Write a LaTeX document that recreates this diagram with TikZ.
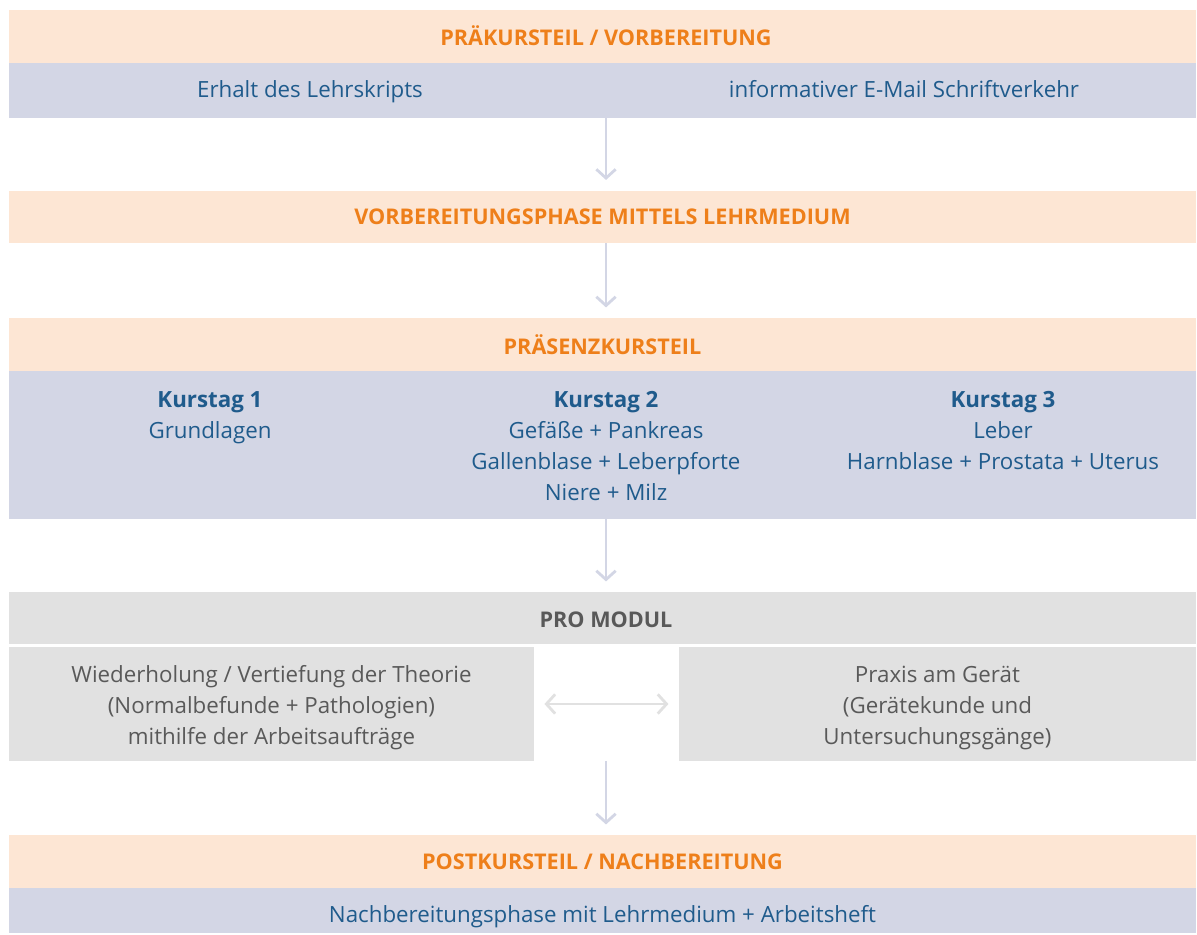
\documentclass[tikz,border=0pt]{standalone}
\usepackage{fontspec}
\setmainfont{Open Sans}
\usetikzlibrary{arrows.meta,positioning}

\definecolor{headfill}{HTML}{FDE6D4}
\definecolor{headtext}{HTML}{EE7F1A}
\definecolor{bodyfill}{HTML}{D3D6E5}
\definecolor{bodytext}{HTML}{1F5B8C}
\definecolor{modfill}{HTML}{E1E1E1}
\definecolor{modtext}{HTML}{595959}

\begin{document}
\begin{tikzpicture}[
    x=0.02cm, y=-0.02cm,
    band/.style={minimum width=23.74cm, inner sep=0pt, outer sep=0pt},
    headband/.style={band, fill=headfill, minimum height=1.06cm, text=headtext, font=\fontsize{12.3}{17.6}\selectfont\bfseries},
    bodyband/.style={band, fill=bodyfill, text=bodytext},
    modbox/.style={fill=modfill, minimum width=10.5cm, minimum height=2.28cm, inner sep=0pt, outer sep=0pt},
    bodylabel/.style={text=bodytext, align=center},
    modlabel/.style={text=modtext, align=center},
    flow/.style={draw=bodyfill, line width=1.6pt, -{Straight Barb[length=5pt,width=11pt]}, shorten >=6pt},
    swap/.style={draw=modfill, line width=1.6pt, {Straight Barb[length=5pt,width=11pt]}-{Straight Barb[length=5pt,width=11pt]}, shorten >=6pt, shorten <=6pt}
]
    \useasboundingbox (0,0) rectangle (1197,935);
    \fontsize{12.7}{17.6}\selectfont

    % Vorbereitung
    \node[headband] (pre) at (602.5,36.5) {};
    \node[text=headtext, font=\fontsize{12.3}{17.6}\selectfont\bfseries] (pretxt) at (606,35.5) {PRÄKURSTEIL / VORBEREITUNG};
    \node[bodyband, minimum height=1.1cm] (preb) at (602.5,90.5) {};
    \node[bodylabel, anchor=base] (skript) at (310,98) {Erhalt des Lehrskripts};
    \node[bodylabel, anchor=base] (mail) at (904,98) {informativer E-Mail Schriftverkehr};

    \node[headband] (medium) at (602.5,217) {VORBEREITUNGSPHASE MITTELS LEHRMEDIUM};

    % Praesenz
    \node[headband] (praes) at (602.5,344.5) {PRÄSENZKURSTEIL};
    \node[bodyband, minimum height=2.96cm] (praesb) at (602.5,445) {};
    \node[bodylabel, anchor=north] (tag1) at (210,384) {\textbf{Kurstag 1}\\Grundlagen};
    \node[bodylabel, anchor=north] (tag2) at (606,384) {\textbf{Kurstag 2}\\Gefäße + Pankreas\\Gallenblase + Leberpforte\\Niere + Milz};
    \node[bodylabel, anchor=north] (tag3) at (1003,384) {\textbf{Kurstag 3}\\Leber\\Harnblase + Prostata + Uterus};

    % Pro Modul
    \node[band, fill=modfill, minimum height=1.04cm] (modul) at (602.5,618) {};
    \node[text=modtext, font=\fontsize{12.3}{17.6}\selectfont\bfseries] (modultxt) at (606,619.5) {PRO MODUL};
    \node[modbox, anchor=north west] (theorie) at (9,647) {};
    \node[modbox, anchor=north west, minimum width=10.34cm] (praxis) at (679,647) {};
    \node[modlabel] (theorietxt) at ([yshift=-0.08cm]theorie.center) {Wiederholung / Vertiefung der Theorie\\(Normalbefunde + Pathologien)\\mithilfe der Arbeitsaufträge};
    \node[modlabel] (praxistxt) at ([yshift=-0.08cm]praxis.center) {Praxis am Gerät\\(Gerätekunde und\\Untersuchungsgänge)};

    % Nachbereitung
    \node[headband] (post) at (602.5,861.5) {POSTKURSTEIL / NACHBEREITUNG};
    \node[bodyband, minimum height=0.9cm] (postb) at (602.5,910.5) {};
    \node[bodylabel] (nach) at ([yshift=-0.12cm]postb.center) {Nachbereitungsphase mit Lehrmedium + Arbeitsheft};

    % Pfeile
    \draw[flow] (preb.south -| 606,0) -- (medium.north -| 606,0);
    \draw[flow] (medium.south -| 606,0) -- (praes.north -| 606,0);
    \draw[flow] (praesb.south -| 606,0) -- (modul.north -| 606,0);
    \draw[flow] (theorie.south -| 606,0) -- (post.north -| 606,0);
    \draw[swap] (theorie.east) -- (praxis.west);
\end{tikzpicture}
\end{document}
